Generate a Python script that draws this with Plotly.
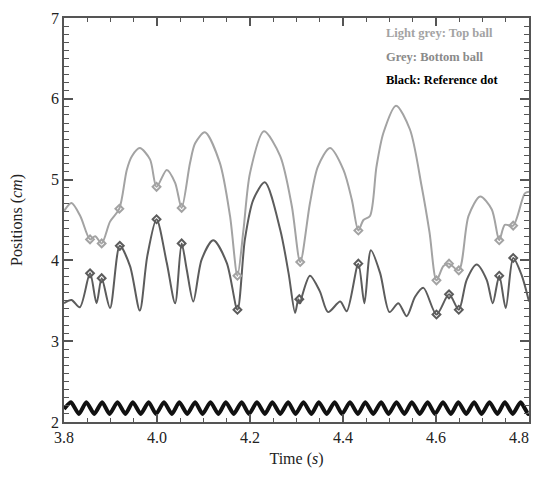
import plotly.graph_objects as go

# ---- Top ball (light grey) ----
top_t = [3.800, 3.816, 3.835, 3.856, 3.867, 3.881, 3.899, 3.919, 3.935, 3.946, 3.963, 3.985, 3.999,
         4.021, 4.039, 4.053, 4.071, 4.082, 4.103, 4.135, 4.157, 4.173, 4.186, 4.200, 4.230, 4.265,
         4.290, 4.308, 4.329, 4.346, 4.372, 4.401, 4.419, 4.433, 4.444, 4.458, 4.472, 4.487, 4.514,
         4.544, 4.569, 4.586, 4.601, 4.616, 4.628, 4.649, 4.670, 4.695, 4.720, 4.736, 4.748, 4.766,
         4.791, 4.800]
top_y = [4.61, 4.71, 4.55, 4.26, 4.30, 4.21, 4.48, 4.64, 5.12, 5.29, 5.39, 5.25, 4.91,
         5.12, 4.96, 4.65, 5.205, 5.45, 5.585, 5.21, 4.55, 3.81, 4.38, 5.08, 5.597, 5.29,
         4.67, 3.98, 4.71, 5.16, 5.39, 5.12, 4.75, 4.37, 4.50, 4.55, 5.16, 5.58, 5.915,
         5.62, 4.92, 4.35, 3.753, 3.93, 3.96, 3.877, 4.55, 4.79, 4.63, 4.25, 4.44, 4.43,
         4.83, 4.85]
top_mark_t = [3.856, 3.881, 3.919, 3.999, 4.053, 4.173, 4.308, 4.433, 4.601, 4.628, 4.649, 4.736, 4.766]
top_mark_y = [4.26, 4.21, 4.64, 4.91, 4.65, 3.81, 3.98, 4.37, 3.753, 3.96, 3.877, 4.25, 4.43]

# ---- Bottom ball (grey) ----
bot_t = [3.800, 3.816, 3.834, 3.856, 3.870, 3.881, 3.899, 3.920, 3.942, 3.963, 3.979, 3.999,
         4.021, 4.039, 4.053, 4.064, 4.078, 4.096, 4.121, 4.150, 4.173, 4.189, 4.207, 4.232,
         4.265, 4.283, 4.297, 4.304, 4.308, 4.312, 4.329, 4.350, 4.368, 4.394, 4.408, 4.433,
         4.446, 4.460, 4.480, 4.500, 4.519, 4.537, 4.555, 4.573, 4.601, 4.628, 4.649, 4.666,
         4.6875, 4.709, 4.722, 4.736, 4.750, 4.766, 4.784, 4.800]
bot_y = [3.47, 3.51, 3.42, 3.84, 3.47, 3.78, 3.41, 4.18, 3.93, 3.38, 4.05, 4.51,
         3.97, 3.47, 4.21, 3.885, 3.49, 4.01, 4.248, 3.97, 3.39, 4.26, 4.75, 4.966,
         4.38, 3.84, 3.35, 3.52, 3.47, 3.56, 3.81, 3.62, 3.36, 3.49, 3.37, 3.96,
         3.47, 4.125, 3.84, 3.36, 3.47, 3.31, 3.55, 3.66, 3.33, 3.58, 3.39, 3.76,
         3.95, 3.76, 3.47, 3.81, 3.41, 4.03, 3.82, 3.49]
bot_mark_t = [3.856, 3.881, 3.920, 3.999, 4.053, 4.173, 4.306, 4.433, 4.601, 4.628, 4.649, 4.736, 4.766]
bot_mark_y = [3.84, 3.78, 4.18, 4.51, 4.21, 3.39, 3.52, 3.96, 3.33, 3.58, 3.39, 3.81, 4.03]

# ---- Reference dot (black), peaks and troughs ----
ref_t = [3.800, 3.815, 3.832, 3.848, 3.865, 3.882, 3.898, 3.915, 3.932, 3.948, 3.965, 3.982, 3.998,
         4.015, 4.032, 4.048, 4.065, 4.082, 4.098, 4.115, 4.132, 4.148, 4.165, 4.182, 4.198,
         4.215, 4.232, 4.248, 4.265, 4.282, 4.298, 4.315, 4.332, 4.348, 4.365, 4.382, 4.398,
         4.415, 4.432, 4.448, 4.465, 4.482, 4.498, 4.515, 4.532, 4.548, 4.565, 4.582, 4.598,
         4.615, 4.632, 4.648, 4.665, 4.682, 4.698, 4.715, 4.732, 4.748, 4.765, 4.782, 4.798, 4.800]
ref_y = [2.16, 2.245, 2.10, 2.245, 2.10, 2.245, 2.10, 2.245, 2.10, 2.245, 2.10, 2.245, 2.10,
         2.245, 2.10, 2.245, 2.10, 2.245, 2.10, 2.245, 2.10, 2.245, 2.10, 2.245, 2.10,
         2.245, 2.10, 2.245, 2.10, 2.245, 2.10, 2.245, 2.10, 2.245, 2.10, 2.245, 2.10,
         2.245, 2.10, 2.245, 2.10, 2.245, 2.10, 2.245, 2.10, 2.245, 2.10, 2.245, 2.10,
         2.245, 2.10, 2.245, 2.10, 2.245, 2.10, 2.245, 2.10, 2.245, 2.10, 2.245, 2.10, 2.11]

x_ticks = [3.8, 4.0, 4.2, 4.4, 4.6, 4.8]
x_tick_labels = ["3.8", "4.0", "4.2", "4.4", "4.6", "4.8\u00a0\u00a0\u00a0\u00a0\u00a0"]
y_ticks = [2, 3, 4, 5, 6, 7]
x_range = [3.8, 4.8]
y_range = [2, 7]

legend_texts = ["Light grey: Top ball", "Grey: Bottom ball", "Black: Reference dot"]

C_TOP = "#a3a3a3"
C_BOT = "#5c5c5c"
C_REF = "#111111"
AX = "#555555"

fig = go.Figure()
fig.add_trace(go.Scatter(x=ref_t, y=ref_y, mode="lines", xaxis="x2", yaxis="y2",
                         line=dict(color=C_REF, width=4, shape="spline", smoothing=0.6)))
fig.add_trace(go.Scatter(x=top_t, y=top_y, mode="lines",
                         line=dict(color=C_TOP, width=2, shape="spline", smoothing=0.8)))
fig.add_trace(go.Scatter(x=bot_t, y=bot_y, mode="lines",
                         line=dict(color=C_BOT, width=2, shape="spline", smoothing=0.8)))
fig.add_trace(go.Scatter(x=top_mark_t, y=top_mark_y, mode="markers",
                         marker=dict(symbol="diamond-open", size=6, color=C_TOP, line=dict(width=2))))
fig.add_trace(go.Scatter(x=bot_mark_t, y=bot_mark_y, mode="markers",
                         marker=dict(symbol="diamond-open", size=6, color=C_BOT, line=dict(width=2))))

serif = "Liberation Serif, Times New Roman, serif"
tick_common = dict(ticks="inside", tickcolor=AX, tickwidth=1.5, showgrid=False, zeroline=False,
                   showline=True, linecolor=AX, linewidth=1.5, automargin=False)
tfont = dict(family=serif, size=16, color="#222222")

xminor = dict(dtick=0.05, ticklen=4, ticks="inside", tickcolor=AX, tickwidth=1.2)
yminor = dict(dtick=0.1, ticklen=5, ticks="inside", tickcolor=AX, tickwidth=1.2)

fig.update_layout(
    xaxis=dict(range=x_range, tickvals=x_ticks, ticktext=x_tick_labels, ticklen=8, minor=xminor,
               tickfont=tfont, ticklabeloverflow="allow",
               title=dict(text="Time (<i>s</i>)", font=tfont, standoff=8),
               **tick_common),
    yaxis=dict(range=y_range, tickvals=y_ticks, ticklen=9, minor=yminor, tickfont=tfont,
               ticklabeloverflow="allow",
               title=dict(text="Positions (<i>cm</i>)", font=tfont, standoff=24),
               **tick_common),
    xaxis2=dict(range=x_range, tickvals=x_ticks, ticklen=8, minor=xminor, overlaying="x",
                side="top", anchor="y2", showticklabels=False, **tick_common),
    yaxis2=dict(range=y_range, tickvals=y_ticks, ticklen=9, minor=yminor, overlaying="y",
                side="right", anchor="x2", showticklabels=False, **tick_common),
)

colors = [C_TOP, "#8a8a8a", "#000000"]
ys = [0.962, 0.903, 0.846]
for txt, col, yy in zip(legend_texts, colors, ys):
    fig.add_annotation(text="<b>" + txt + "</b>", x=0.688, y=yy, xref="paper", yref="paper",
                       xanchor="left", yanchor="middle", showarrow=False,
                       font=dict(family=serif, size=12.5, color=col))

fig.update_layout(width=539, height=461, showlegend=False,
                  paper_bgcolor="white", plot_bgcolor="white",
                  margin=dict(l=56, r=18, t=10, b=47))

fig.write_html("out.html")
